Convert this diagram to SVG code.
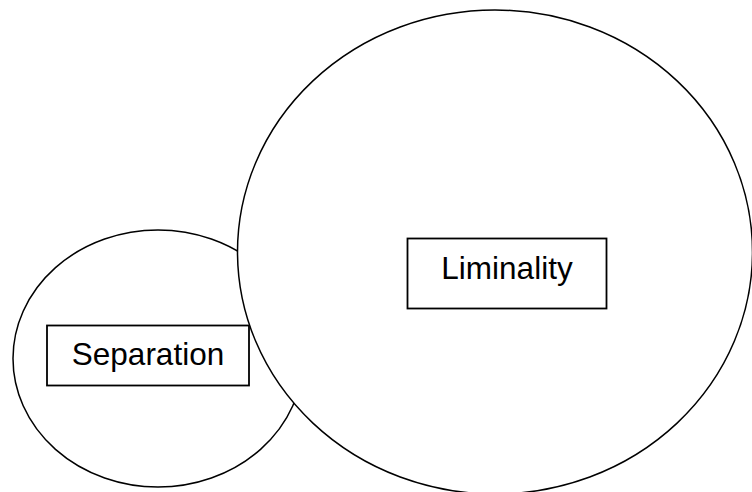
<svg xmlns="http://www.w3.org/2000/svg" width="752" height="492" viewBox="0 0 752 492">
<style>
.ell{fill:#fff;stroke:#000;stroke-width:1.5}
.box{fill:#fff;stroke:#000;stroke-width:1.8}
.lbl{font-family:"Liberation Sans",Arial,sans-serif;font-size:31.5px;fill:#000;text-anchor:middle}
</style>
<rect width="752" height="492" fill="#fff"/>
<g id="separation-circle"><ellipse class="ell" cx="158" cy="358.5" rx="145" ry="128.5"/></g>
<g id="liminality-circle"><ellipse class="ell" cx="495" cy="252" rx="257.5" ry="242"/></g>
<g id="connectors"></g>
<g id="separation"><rect class="box" x="47" y="325.5" width="202" height="60"/><text class="lbl" x="148" y="365">Separation</text></g>
<g id="liminality"><rect class="box" x="407.5" y="238.5" width="199" height="70"/><text class="lbl" x="507" y="279">Liminality</text></g>
</svg>
